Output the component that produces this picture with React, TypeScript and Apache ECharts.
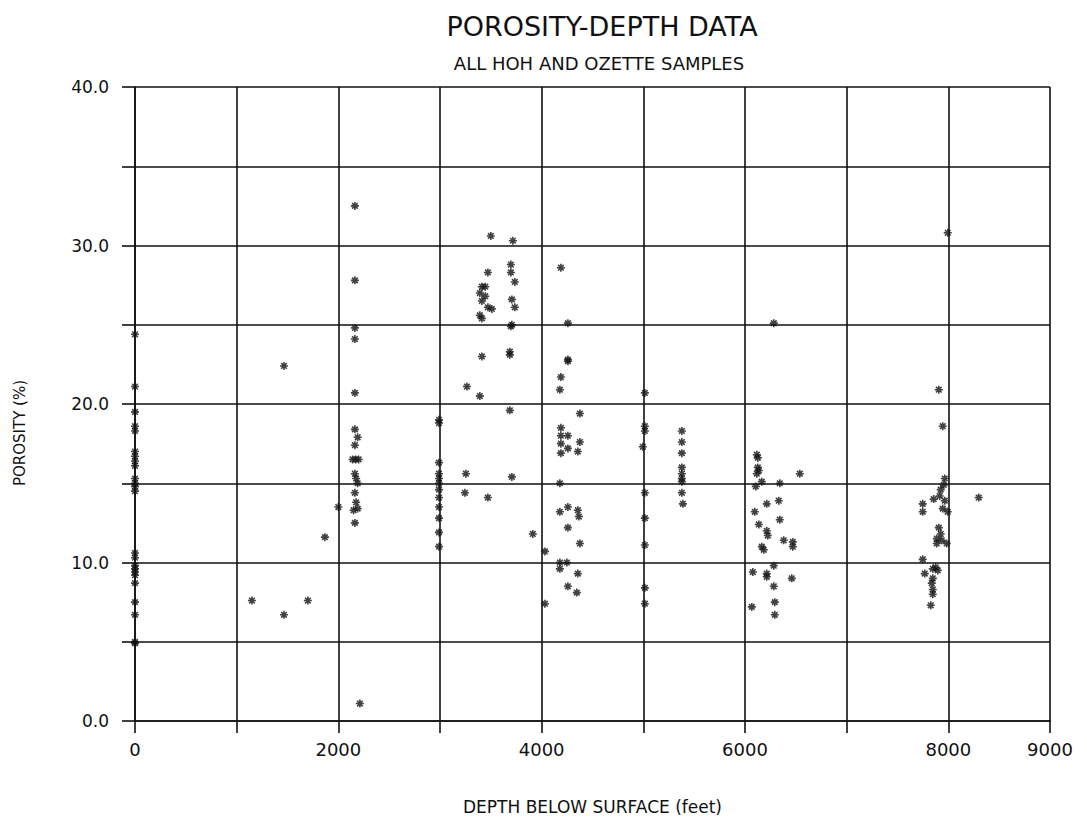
import React, { useEffect, useRef } from "react";
import * as echarts from "echarts";

const TITLE = "POROSITY-DEPTH DATA";
const SUBTITLE = "ALL HOH AND OZETTE SAMPLES";
const X_NAME = "DEPTH BELOW SURFACE (feet)";
const Y_NAME = "POROSITY (%)";

// [depth (feet), porosity (%)]
const surfaceSamples: number[][] = [
  [0, 24.4], [0, 21.1], [0, 19.5], [0, 18.6], [0, 18.3], [0, 17.0], [0, 16.7], [0, 16.4],
  [0, 16.1], [0, 15.3], [0, 15.0], [0, 14.8], [0, 14.5], [0, 10.6], [0, 10.3], [0, 9.8],
  [0, 9.6], [0, 9.4], [0, 9.2], [0, 8.7], [0, 7.5], [0, 6.7], [0, 5.0], [0, 4.9],
];

const shallowSamples: number[][] = [
  [1150, 7.6], [1465, 22.4], [1465, 6.7], [1700, 7.6], [1868, 11.6], [2000, 13.5],
  [2163, 32.5], [2163, 27.8], [2163, 24.8], [2163, 24.1], [2163, 20.7], [2163, 18.4],
  [2190, 17.9], [2163, 17.4], [2140, 16.5], [2170, 16.5], [2200, 16.5], [2163, 15.6],
  [2175, 15.3], [2190, 15.0], [2163, 14.4], [2175, 13.8], [2150, 13.3], [2190, 13.4],
  [2163, 12.5], [2212, 1.1],
];

const midSamples: number[][] = [
  [2990, 19.0], [2990, 18.8], [2990, 16.3], [2990, 15.6], [2990, 15.3], [2990, 15.0],
  [2990, 14.6], [2990, 14.1], [2990, 13.5], [2990, 12.8], [2990, 11.9], [2990, 11.0],
  [3500, 30.6], [3717, 30.3], [3697, 28.8], [3471, 28.3], [3697, 28.3], [3736, 27.7],
  [3412, 27.4], [3445, 27.4], [3392, 27.0], [3445, 26.8], [3412, 26.5], [3471, 26.1],
  [3510, 26.0], [3392, 25.6], [3412, 25.4], [3707, 26.6], [3736, 26.1], [3707, 25.0],
  [3697, 24.9], [3412, 23.0], [3687, 23.3], [3687, 23.1], [3265, 21.1], [3392, 20.5],
  [3687, 19.6], [3255, 15.6], [3707, 15.4], [3245, 14.4], [3471, 14.1], [3913, 11.8],
  [4189, 28.6], [4258, 25.1], [4258, 22.8], [4258, 22.7], [4189, 21.7], [4179, 20.9],
  [4376, 19.4], [4189, 18.5], [4189, 18.0], [4258, 18.0], [4189, 17.5], [4258, 17.2],
  [4376, 17.6], [4356, 17.0], [4189, 16.9], [4179, 15.0], [4179, 13.2], [4258, 13.5],
  [4356, 13.3], [4366, 12.9], [4258, 12.2], [4376, 11.2], [4032, 10.7], [4179, 10.0],
  [4248, 10.0], [4179, 9.6], [4356, 9.3], [4258, 8.5], [4346, 8.1], [4032, 7.4],
];

const deepSamples: number[][] = [
  [5015, 20.7], [5015, 18.6], [5015, 18.3], [4995, 17.3], [5015, 14.4], [5015, 12.8],
  [5015, 11.1], [5015, 8.4], [5015, 7.4],
  [5379, 18.3], [5379, 17.6], [5379, 16.9], [5379, 16.0], [5379, 15.6], [5379, 15.3],
  [5379, 15.1], [5379, 14.4], [5389, 13.7],
  [6283, 25.1], [6116, 16.8], [6126, 16.6], [6126, 16.0], [6136, 15.8], [6116, 15.6],
  [6165, 15.1], [6106, 14.8], [6342, 15.0], [6539, 15.6], [6332, 13.9], [6214, 13.7],
  [6096, 13.2], [6342, 12.7], [6136, 12.4], [6214, 12.0], [6224, 11.7], [6381, 11.4],
  [6470, 11.3], [6470, 11.0], [6165, 11.0], [6185, 10.8], [6283, 9.8], [6077, 9.4],
  [6214, 9.3], [6214, 9.1], [6460, 9.0], [6283, 8.5], [6293, 7.5], [6067, 7.2], [6293, 6.7],
];

const deepestSamples: number[][] = [
  [7994, 30.8], [7906, 20.9], [7945, 18.6], [7965, 15.3], [7955, 14.9], [7925, 14.6],
  [7856, 14.0], [7915, 14.2], [7965, 13.9], [7748, 13.7], [7748, 13.2], [7945, 13.4],
  [7994, 13.2], [8299, 14.1], [7906, 12.2], [7925, 11.8], [7886, 11.5], [7935, 11.4],
  [7984, 11.2], [7886, 11.2], [7748, 10.2], [7876, 9.7], [7847, 9.6], [7896, 9.5],
  [7768, 9.3], [7847, 9.0], [7837, 8.7], [7847, 8.3], [7847, 8.0], [7827, 7.3],
];

const Y_LABELS = [0, 10, 20, 30, 40];
const X_LABELS = [0, 2000, 4000, 6000, 8000, 9000];

const FONT = "DejaVu Sans, Verdana, sans-serif";
const STAR = "path://M5 0L5 10M0 5L10 5M1.5 1.5L8.5 8.5M8.5 1.5L1.5 8.5";

export default function App() {
  const ref = useRef<HTMLDivElement>(null);
  useEffect(() => {
    if (!ref.current) return;
    const chart = echarts.init(ref.current, null, { renderer: "svg" });
    const allData = [
      ...surfaceSamples,
      ...shallowSamples,
      ...midSamples,
      ...deepSamples,
      ...deepestSamples,
    ];
    chart.setOption({
      animation: false,
      backgroundColor: "#ffffff",
      title: [
        {
          text: TITLE,
          left: 597,
          top: 8,
          textAlign: "center",
          textStyle: { fontFamily: FONT, fontSize: 27, fontWeight: "normal", color: "#111" },
        },
        {
          text: SUBTITLE,
          left: 594,
          top: 49,
          textAlign: "center",
          textStyle: { fontFamily: FONT, fontSize: 18, fontWeight: "normal", color: "#111" },
        },
      ],
      graphic: [
        {
          type: "text",
          x: 20,
          y: 433,
          rotation: Math.PI / 2,
          style: {
            text: Y_NAME,
            fontFamily: FONT,
            fontSize: 15,
            fill: "#111",
            align: "center",
            verticalAlign: "middle",
          },
        },
      ],
      grid: { left: 135, right: 37, top: 87, bottom: 103, containLabel: false },
      xAxis: {
        type: "value",
        min: 0,
        max: 9000,
        interval: 1000,
        name: X_NAME,
        nameLocation: "middle",
        nameGap: 77,
        nameTextStyle: { fontFamily: FONT, fontSize: 17, color: "#111" },
        axisLine: { show: true, onZero: false, lineStyle: { color: "#111", width: 1.6 } },
        axisTick: { show: true, length: 12, lineStyle: { color: "#111", width: 1.6 } },
        splitLine: { show: true, lineStyle: { color: "#111", width: 1.6 } },
        axisLabel: {
          margin: 19,
          fontFamily: FONT,
          fontSize: 18,
          color: "#111",
          showMaxLabel: true,
          formatter: (v: number) => (X_LABELS.includes(v) ? String(v) : ""),
        },
      },
      yAxis: {
        type: "value",
        min: 0,
        max: 40,
        interval: 5,
        axisLine: { show: true, lineStyle: { color: "#111", width: 1.6 } },
        axisTick: { show: true, length: 13, lineStyle: { color: "#111", width: 1.6 } },
        splitLine: { show: true, lineStyle: { color: "#111", width: 1.6 } },
        axisLabel: {
          margin: 26,
          fontFamily: FONT,
          fontSize: 17,
          color: "#111",
          formatter: (v: number) => (Y_LABELS.includes(v) ? v.toFixed(1) : ""),
        },
      },
      series: [
        {
          type: "scatter",
          data: allData,
          symbol: STAR,
          symbolSize: 8,
          itemStyle: { color: "#111", borderColor: "#111", borderWidth: 1.6 },
        },
      ],
    });
    return () => chart.dispose();
  }, []);
  return <div ref={ref} style={{ width: 1087, height: 824, position: "absolute", left: 0, top: 0, background: "#fff" }} />;
}
